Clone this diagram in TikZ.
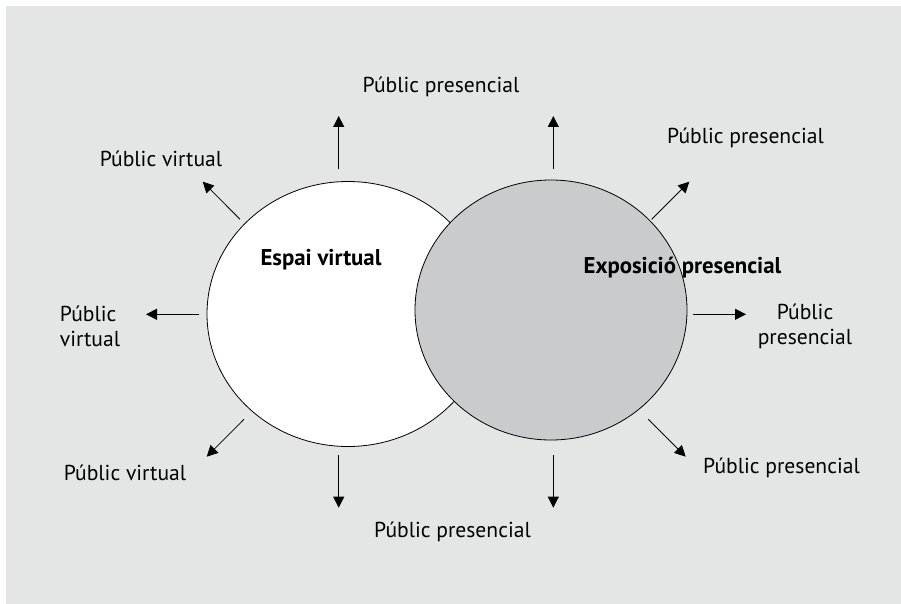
\documentclass[tikz,border=0pt]{standalone}
\usepackage{fontspec}
\setmainfont{PT Sans}
\usetikzlibrary{shapes.geometric,arrows.meta}
\definecolor{bgc}{RGB}{228,229,229}
\definecolor{greyc}{RGB}{202,203,205}
\tikzset{
  lbl/.style={font=\fontsize{21.6}{25}\selectfont, inner sep=0pt, align=center},
  inlbl/.style={font=\fontsize{22.8}{26}\selectfont\bfseries, inner sep=0pt},
  arr/.style={line width=0.8pt, -{Triangle[length=11pt,width=11pt]}},
  circ/.style={ellipse, draw, line width=0.8pt, inner sep=0pt}
}
\begin{document}
\begin{tikzpicture}[x=1pt,y=-1pt]
\useasboundingbox (0,0) rectangle (901,604);
\fill[bgc] (6,6) rectangle (901,604);
% ellipses
\node[circ, fill=white, minimum width=282pt, minimum height=265pt] (ev) at (348,314) {};
\node[circ, fill=greyc, minimum width=272pt, minimum height=260pt] (ep) at (551,310) {};
\node[inlbl] (tev) at (321,260) {Espai virtual};
\node[inlbl] (tep) at (682.5,268) {Exposició presencial};
% labels
\node[lbl] (lt)  at (441,87)  {Públic presencial};
\node[lbl] (lul) at (161,159) {Públic virtual};
\node[lbl] (lur) at (745.5,138) {Públic presencial};
\node[lbl, align=left] (ll) at (90,326) {Públic\\virtual};
\node[lbl] (lr)  at (805,326) {Públic\\presencial};
\node[lbl] (lll) at (125,473) {Públic virtual};
\node[lbl] (lb)  at (452.5,532) {Públic presencial};
\node[lbl] (llr) at (781.5,468) {Públic presencial};
% arrow endpoints
\coordinate (s1) at (338.7,169.3); \coordinate (e1) at (338.7,116);
\coordinate (s2) at (553.3,169.3); \coordinate (e2) at (553.3,116);
\coordinate (s3) at (240,219.3);   \coordinate (e3) at (202.7,181.7);
\coordinate (s4) at (651.7,219.3); \coordinate (e4) at (689.3,181.7);
\coordinate (s5) at (199.3,314.3); \coordinate (e5) at (146,314.3);
\coordinate (s6) at (693.3,314.3); \coordinate (e6) at (746,314.3);
\coordinate (s7) at (244,419.3);   \coordinate (e7) at (206.7,456.7);
\coordinate (s8) at (648.3,419.3); \coordinate (e8) at (685.7,456.7);
\coordinate (s9) at (338.7,455);   \coordinate (e9) at (338.7,507.7);
\coordinate (s10) at (553.3,455);  \coordinate (e10) at (553.3,507.7);
\foreach \i in {1,...,10} {\draw[arr] (s\i) -- (e\i);}
\end{tikzpicture}
\end{document}
